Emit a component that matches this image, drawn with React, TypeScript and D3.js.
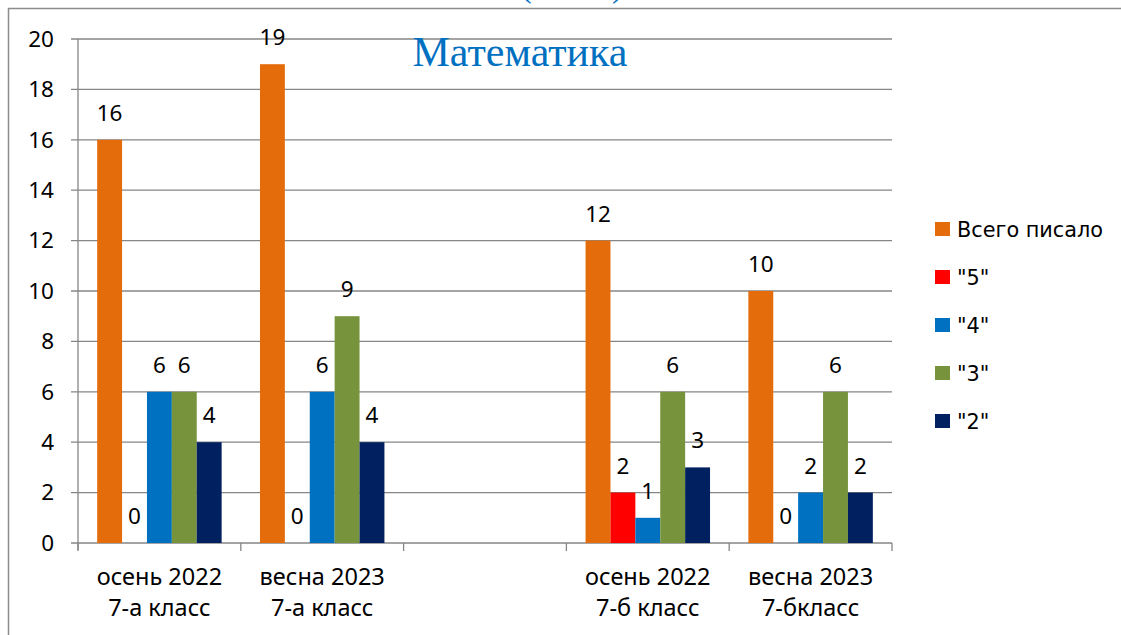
import React from 'react';
import * as d3 from 'd3';

// data
const catLine1 = ['осень 2022', 'весна 2023', '', 'осень 2022', 'весна 2023'];
const catLine2 = ['7-а класс', '7-а класс', '', '7-б класс', '7-бкласс'];
const seriesNames = ['Всего писало', '"5"', '"4"', '"3"', '"2"'];
const seriesColors = ['#E46C0A', '#FF0000', '#0070C0', '#77933C', '#002060'];
const totalWrote = [16, 19, null, 12, 10];
const grade5 = [0, 0, null, 2, 0];
const grade4 = [6, 6, null, 1, 2];
const grade3 = [6, 9, null, 6, 6];
const grade2 = [4, 4, null, 3, 2];
const yTicks = [0, 2, 4, 6, 8, 10, 12, 14, 16, 18, 20];

const series = [totalWrote, grade5, grade4, grade3, grade2];

const W = 1121;
const H = 635;
const margin = { top: 39, right: 229, bottom: 92, left: 78 };
const labelFont = '"Noto Sans", sans-serif';

export default function App() {
	const x = d3
		.scaleBand<number>()
		.domain(catLine1.map((d, i) => i))
		.range([margin.left, W - margin.right])
		.padding(0);

	const xs = d3
		.scaleBand<number>()
		.domain(series.map((d, i) => i))
		.range([0, x.bandwidth()])
		.paddingInner(0)
		.paddingOuter(0.77);

	const y = d3
		.scaleLinear()
		.domain([0, 20])
		.range([H - margin.bottom, margin.top]);

	const bounds = x.domain().map((i) => x(i)!).concat([W - margin.right]);

	return (
		<svg
			width={W}
			height={H}
			style={{ position: 'absolute', left: 0, top: 0, background: '#fff' }}
		>
			{/* frame of the cropped chart */}
			<line x1={8.5} x2={8.5} y1={8} y2={H} stroke="#8c8c8c" strokeWidth={1.5} />
			<line x1={8} x2={W} y1={8.5} y2={8.5} stroke="#8c8c8c" strokeWidth={1.5} />
			<g fill="#0070C0" fontFamily='"Liberation Serif", serif' fontSize={32}>
				<text x={521} y={-3}>(</text>
				<text x={612} y={-3}>)</text>
			</g>

			{/* grid */}
			<g stroke="#868686" strokeWidth={1.3}>
				{yTicks.map((t) => (
					<line key={t} x1={margin.left - 7} x2={W - margin.right} y1={y(t)} y2={y(t)} />
				))}
				<line x1={margin.left} x2={margin.left} y1={y(20)} y2={y(0) + 7} />
				{bounds.map((b, i) => (
					<line key={i} x1={b} x2={b} y1={y(0)} y2={y(0) + 8} />
				))}
			</g>

			{/* y tick labels */}
			<g fontFamily={labelFont} fontSize={22.5} fill="#000" textAnchor="end">
				{yTicks.map((t) => (
					<text key={t} x={54} y={y(t)} dy="0.35em">
						{t}
					</text>
				))}
			</g>

			{/* bars */}
			{series.map((vals, s) => (
				<g key={s} fill={seriesColors[s]}>
					{vals.map((v, c) =>
						v == null ? null : (
							<rect
								key={c}
								x={x(c)! + xs(s)!}
								width={xs.bandwidth()}
								y={y(v)}
								height={y(0) - y(v)}
							/>
						)
					)}
				</g>
			))}

			{/* value labels */}
			<g fontFamily={labelFont} fontSize={22.5} fill="#000" textAnchor="middle">
				{series.map((vals, s) =>
					vals.map((v, c) =>
						v == null ? null : (
							<text key={s + '-' + c} x={x(c)! + xs(s)! + xs.bandwidth() / 2} y={y(v) - 19}>
								{v}
							</text>
						)
					)
				)}
			</g>

			{/* category labels */}
			<g fontFamily={labelFont} fontSize={23.5} fill="#000" textAnchor="middle">
				{catLine1.map((l, i) => (
					<text key={i} x={x(i)! + x.bandwidth() / 2} y={585}>
						<tspan x={x(i)! + x.bandwidth() / 2}>{l}</tspan>
						<tspan x={x(i)! + x.bandwidth() / 2} y={616}>
							{catLine2[i]}
						</tspan>
					</text>
				))}
			</g>

			<text
				x={520}
				y={66}
				textAnchor="middle"
				fill="#0070C0"
				fontFamily='"Liberation Serif", serif'
				fontSize={42}
			>
				Математика
			</text>

			{/* legend */}
			<g fontFamily='"DejaVu Sans", sans-serif' fontSize={20.8} fill="#000">
				{seriesNames.map((n, i) => (
					<g key={n} transform={`translate(935, ${229 + i * 48})`}>
						<rect x={0} y={-7} width={15} height={14} fill={seriesColors[i]} />
						<text x={22} y={0} dy="0.36em">
							{n}
						</text>
					</g>
				))}
			</g>
		</svg>
	);
}
